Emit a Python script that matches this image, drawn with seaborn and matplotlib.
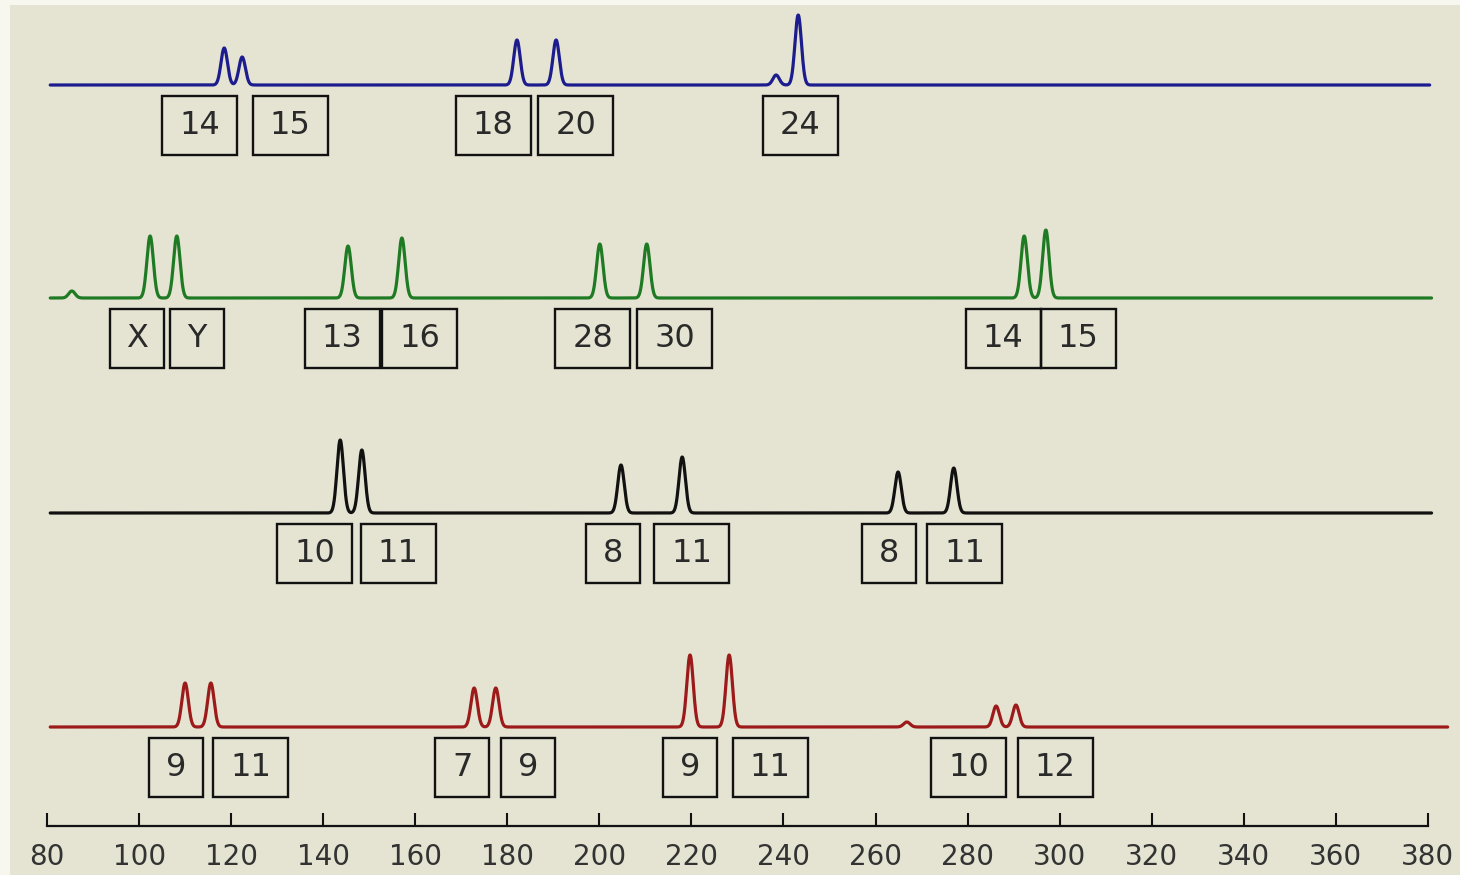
import numpy as np
import pandas as pd
import matplotlib.pyplot as plt
import seaborn as sns
from matplotlib.patches import Rectangle

# fragment sizes (bp) of the peaks, peak heights, allele calls per dye lane
blue_peaks = [118.5, 122.4, 182.1, 190.6, 238.4, 243.2]
blue_heights = [37, 28, 45, 45, 10, 70]
blue_labels = ["14", "15", "18", "20", "24"]
blue_label_pos = [113.2, 132.8, 176.9, 194.9, 243.6]

green_peaks = [85.4, 102.4, 108.2, 145.4, 157.1, 200.1, 210.3, 292.3, 297.0]
green_heights = [7, 62, 62, 52, 60, 54, 54, 62, 68]
green_labels = ["X", "Y", "13", "16", "28", "30", "14", "15"]
green_label_pos = [99.6, 112.6, 144.1, 161.0, 198.6, 216.4, 287.7, 304.0]

black_peaks = [143.7, 148.4, 204.7, 218.0, 264.9, 277.0]
black_heights = [73, 63, 48, 56, 41, 45]
black_labels = ["10", "11", "8", "11", "8", "11"]
black_label_pos = [138.2, 156.3, 203.0, 220.1, 262.9, 279.4]

red_peaks = [110.0, 115.6, 172.8, 177.5, 219.7, 228.2, 266.8, 286.2, 290.5]
red_heights = [44, 44, 39, 39, 72, 72, 5, 21, 22]
red_labels = ["9", "11", "7", "9", "9", "11", "10", "12"]
red_label_pos = [108.0, 124.3, 170.2, 184.5, 219.7, 237.1, 280.3, 299.0]

lane_ends = {"blue": 380.4, "green": 380.8, "black": 380.8, "red": 384.3}

lanes = [
    ("blue", "#1c1c8e", 741, blue_peaks, blue_heights, blue_labels, blue_label_pos),
    ("green", "#1f7a24", 528, green_peaks, green_heights, green_labels, green_label_pos),
    ("black", "#111111", 313, black_peaks, black_heights, black_labels, black_label_pos),
    ("red", "#9c1a1a", 99, red_peaks, red_heights, red_labels, red_label_pos),
]

sns.set_style("white")
plt.rcParams["font.family"] = ["DejaVu Sans"]

fig = plt.figure(figsize=(14.6, 8.75), dpi=100, facecolor="#f7f7f0")
ax = fig.add_axes([10 / 1460, 0, 1450 / 1460, 870 / 875])
ax.set_facecolor("#e5e4d2")

for name, color, base, peaks, heights, labels, label_pos in lanes:
    x = np.linspace(80.7, lane_ends[name], 4000)
    y = np.full_like(x, float(base))
    for p, h in zip(peaks, heights):
        y += h * np.exp(-((x - p) ** 2) / (2 * 0.7 ** 2))
    df = pd.DataFrame({"size": x, "signal": y})
    sns.lineplot(data=df, x="size", y="signal", color=color, lw=2.3,
                 estimator=None, sort=False, ax=ax)

    # allele call boxes under the trace
    for lab, pos in zip(labels, label_pos):
        w = 11.7 if len(lab) == 1 else 16.3
        ax.add_patch(Rectangle((pos - w / 2, base - 70), w, 59, fill=False,
                               ec="#111111", lw=1.7, zorder=3))
        ax.text(pos, base - 40.5, lab, ha="center", va="center",
                fontsize=23, color="#2a2a2a", zorder=4)

ax.set_xlim(71.96, 386.98)
ax.set_ylim(-49, 821)
ax.set_xticks(np.arange(80, 381, 20))
ax.set_yticks([])
ax.set_xlabel("")
ax.set_ylabel("")

for s in ["top", "left", "right"]:
    ax.spines[s].set_visible(False)
ax.spines["bottom"].set_position(("data", 0))
ax.spines["bottom"].set_bounds(80, 380)
ax.spines["bottom"].set_linewidth(1.6)
ax.spines["bottom"].set_color("#111111")
ax.tick_params(axis="x", bottom=True, direction="in", length=9.5, width=1.5,
               colors="#111111", labelcolor="#333333", labelsize=20, pad=12)

fig.savefig("out.png", dpi=100, facecolor=fig.get_facecolor())
